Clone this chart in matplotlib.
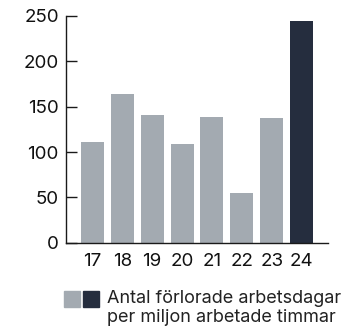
import matplotlib
matplotlib.use("Agg")
import matplotlib.pyplot as plt
from matplotlib.patches import Rectangle

years = ["17", "18", "19", "20", "21", "22", "23", "24"]
values = [111, 164, 141, 109, 139, 55, 138, 245]
bar_colors = ["#a3aab1"] * 7 + ["#252d3e"]
y_ticks = [0, 50, 100, 150, 200, 250]
legend_text = "Antal förlorade arbetsdagar\nper miljon arbetade timmar"

plt.rcParams["font.family"] = ["Inter", "DejaVu Sans"]
fs_ticks = 13.5
fs_legend = 13

fig = plt.figure(figsize=(3.42, 3.31), dpi=100)
W, H = 342, 331
ax = fig.add_axes([65.7 / W, 1 - 242.7 / H, (327.7 - 65.7) / W, (242.7 - 16) / H])

x = list(range(len(years)))
ax.bar(x, values, width=0.77, color=bar_colors, zorder=2)

ax.set_xlim(-0.89, 7.87)
ax.set_ylim(0, 250)
ax.set_yticks(y_ticks)
ax.set_xticks(x)
ax.set_xticklabels(years)

for s in ["top", "right"]:
    ax.spines[s].set_visible(False)
for s in ["left", "bottom"]:
    ax.spines[s].set_color("#1a1a1a")
    ax.spines[s].set_linewidth(1.0)

ax.tick_params(axis="y", direction="in", length=8, width=1.0, color="#1a1a1a",
               labelsize=fs_ticks, pad=5, labelcolor="#111111")
ax.tick_params(axis="x", length=0, labelsize=fs_ticks, pad=7.5, labelcolor="#111111")

# legend swatches and caption
fig.patches.append(Rectangle((64 / W, 1 - 307 / H), 16 / W, 16 / H,
                             transform=fig.transFigure, color=bar_colors[0]))
fig.patches.append(Rectangle((83 / W, 1 - 307 / H), 16 / W, 16 / H,
                             transform=fig.transFigure, color=bar_colors[-1]))
fig.text(107 / W, 1 - 290 / H, legend_text, fontsize=fs_legend, va="top", ha="left",
         color="#222222", linespacing=1.12)

fig.savefig("out.png", dpi=100)
